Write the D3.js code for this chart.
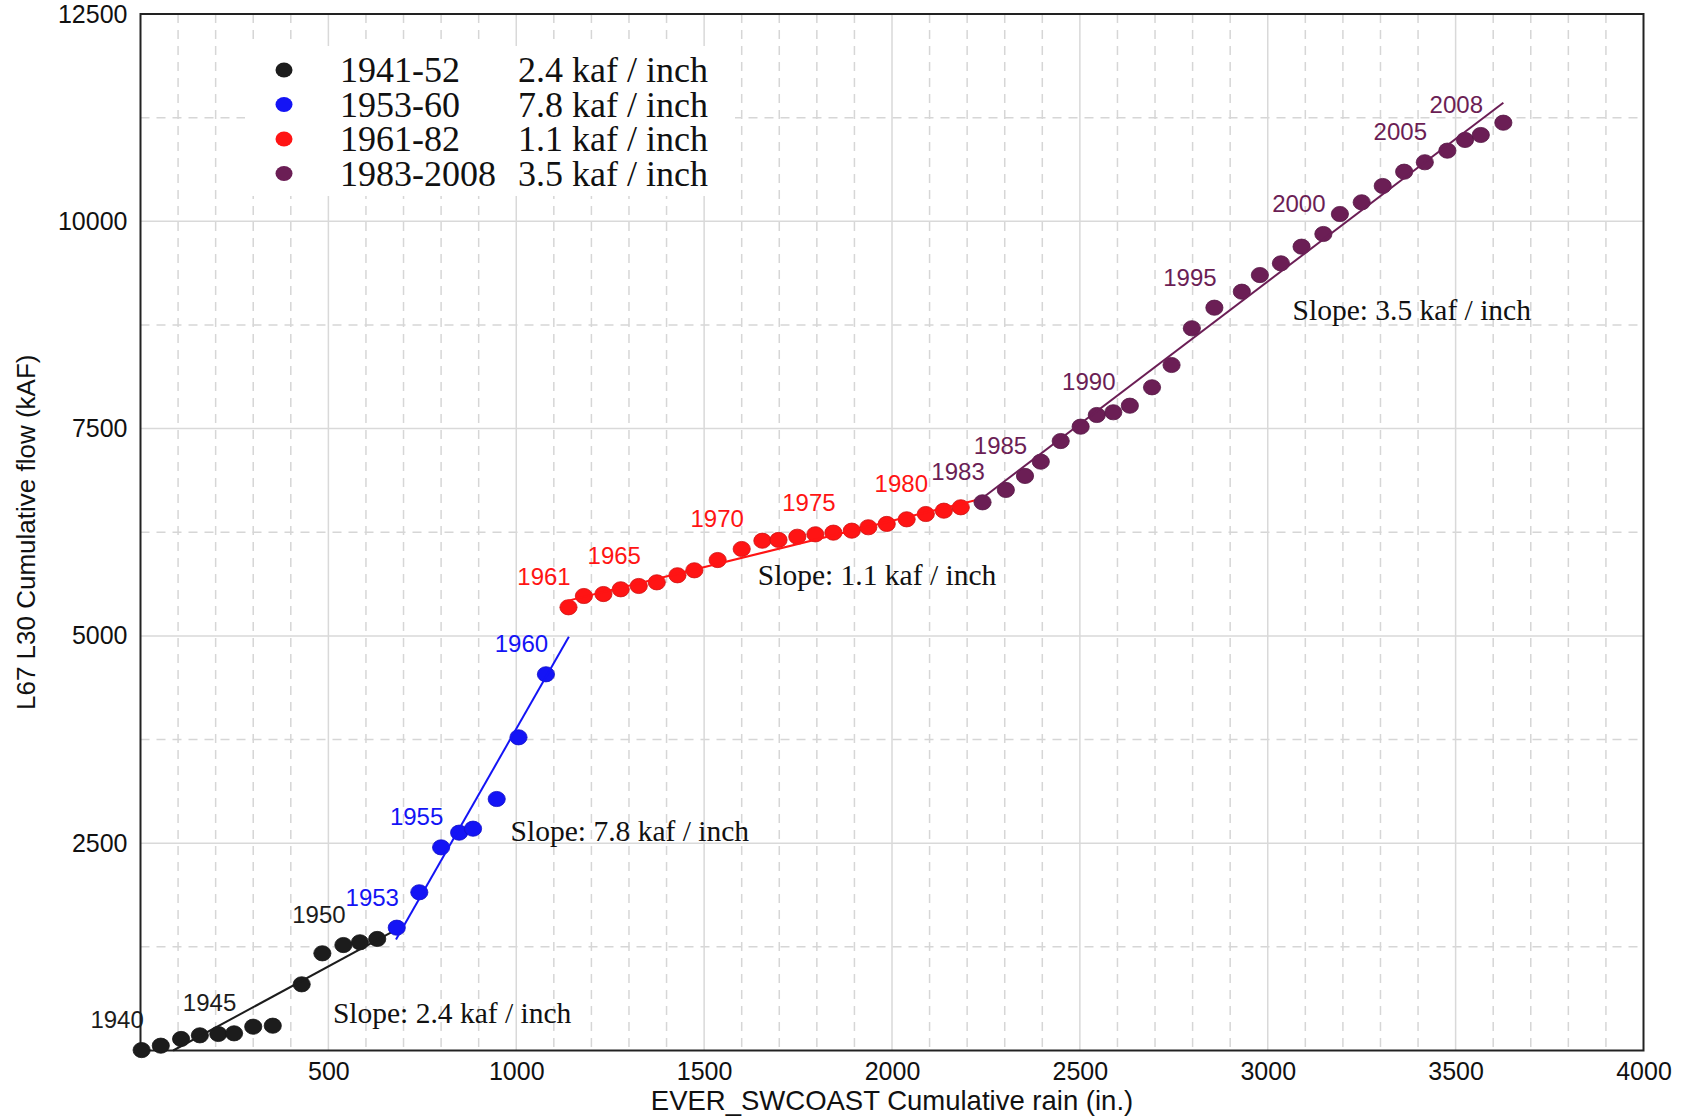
<!DOCTYPE html>
<html>
<head>
<meta charset="utf-8">
<script src="https://cdn.jsdelivr.net/npm/d3@7"></script>
<style>
  body { margin: 0; background: #fff; }
  svg { display: block; }
</style>
</head>
<body>
<div id="chart"></div>
<script>
// values
const blackYears = [1940, 1941, 1942, 1943, 1944, 1945, 1946, 1947, 1948, 1949, 1950, 1951, 1952]
const blackRain = [3, 54, 108, 158, 207, 249, 300, 352, 429, 484, 540, 584, 630]
const blackFlow = [5, 58, 139, 183, 199, 207, 287, 299, 798, 1172, 1272, 1305, 1345]

const blueYears = [1953, 1954, 1955, 1956, 1957, 1958, 1959, 1960]
const blueRain = [682, 742, 800, 848, 885, 948, 1006, 1079]
const blueFlow = [1481, 1908, 2450, 2627, 2675, 3033, 3777, 4537]

const redYears = [1961, 1962, 1963, 1964, 1965, 1966, 1967, 1968, 1969, 1970, 1971,
                  1972, 1973, 1974, 1975, 1976, 1977, 1978, 1979, 1980, 1981, 1982]
const redRain = [1139, 1180, 1232, 1278, 1326, 1374, 1429, 1474, 1536, 1600, 1655,
                 1698, 1748, 1796, 1844, 1893, 1937, 1986, 2039, 2090, 2138, 2183]
const redFlow = [5345, 5481, 5505, 5562, 5602, 5646, 5731, 5791, 5915, 6048, 6148,
                 6157, 6196, 6225, 6245, 6269, 6310, 6350, 6406, 6470, 6510, 6551]

const purpleYears = [1983, 1984, 1985, 1986, 1987, 1988, 1989, 1990, 1991, 1992, 1993, 1994, 1995,
                     1996, 1997, 1998, 1999, 2000, 2001, 2002, 2003, 2004, 2005, 2006, 2007, 2008, 2009]
const purpleRain = [2241, 2303, 2354, 2396, 2449, 2502, 2545, 2589, 2633, 2692, 2744, 2798, 2858,
                    2931, 2979, 3035, 3090, 3148, 3192, 3250, 3306, 3363, 3418, 3478, 3525, 3567, 3627]
const purpleFlow = [6611, 6760, 6929, 7101, 7350, 7523, 7664, 7697, 7776, 7998, 8267, 8710, 8958,
                    9151, 9352, 9493, 9694, 9847, 10088, 10229, 10426, 10598, 10712, 10852, 10981, 11041, 11189]

// fitted lines, [rain, flow] end points
const blackFit = [[87, 0], [682, 1460]]
const blueFit = [[680, 1340], [1140, 4990]]
const redFit = [[1125, 5410], [2225, 6640]]
const purpleFit = [[2240, 6660], [3627, 11430]]

const labelledYears = [1940, 1945, 1950, 1953, 1955, 1960, 1961, 1965, 1970, 1975, 1980,
                       1983, 1985, 1990, 1995, 2000, 2005, 2008]

const periodNames = ["1941-52", "1953-60", "1961-82", "1983-2008"]
const slopeNames = ["2.4 kaf / inch", "7.8 kaf / inch", "1.1 kaf / inch", "3.5 kaf / inch"]
const colors = ["#1c1c1c", "#1414f5", "#ff1414", "#6b1e55"]

const slopeText = ["Slope: 2.4 kaf / inch", "Slope: 7.8 kaf / inch", "Slope: 1.1 kaf / inch", "Slope: 3.5 kaf / inch"]
const slopeAt = [[512, 458], [985, 2653], [1643, 5734], [3066, 8930]]

const xTicks = [500, 1000, 1500, 2000, 2500, 3000, 3500, 4000]
const yTicks = [2500, 5000, 7500, 10000, 12500]
const yMinor = [1250, 3750, 6250, 8750, 11250]

const W = 1689, H = 1116
const svg = d3.select("#chart").append("svg").attr("width", W).attr("height", H)
svg.append("rect").attr("width", W).attr("height", H).attr("fill", "#fff")

const x = d3.scaleLinear().domain([0, 4000]).range([140.5, 1643.5])
const y = d3.scaleLinear().domain([0, 12500]).range([1050.5, 14])

// grid
const grid = svg.append("g")
grid.selectAll(".vminor").data(x.ticks(40).filter(d => d % 500 !== 0)).enter().append("line")
    .attr("x1", d => x(d)).attr("x2", d => x(d)).attr("y1", y(12500)).attr("y2", y(0))
    .attr("stroke", "#d6d6d6").attr("stroke-width", 1.5).attr("stroke-dasharray", "9,7")
grid.selectAll(".hminor").data(yMinor).enter().append("line")
    .attr("x1", x(0)).attr("x2", x(4000)).attr("y1", d => y(d)).attr("y2", d => y(d))
    .attr("stroke", "#d6d6d6").attr("stroke-width", 1.5).attr("stroke-dasharray", "9,7")
grid.selectAll(".vmajor").data(xTicks.slice(0, -1)).enter().append("line")
    .attr("x1", d => x(d)).attr("x2", d => x(d)).attr("y1", y(12500)).attr("y2", y(0))
    .attr("stroke", "#d9d9d9").attr("stroke-width", 1.5)
grid.selectAll(".hmajor").data(yTicks.slice(0, -1)).enter().append("line")
    .attr("x1", x(0)).attr("x2", x(4000)).attr("y1", d => y(d)).attr("y2", d => y(d))
    .attr("stroke", "#d9d9d9").attr("stroke-width", 1.5)

// legend background hides the grid
svg.append("rect").attr("x", 245).attr("y", 46).attr("width", 490).attr("height", 150).attr("fill", "#fff")

// frame
svg.append("rect").attr("x", x(0)).attr("y", y(12500))
   .attr("width", x(4000) - x(0)).attr("height", y(0) - y(12500))
   .attr("fill", "none").attr("stroke", "#222").attr("stroke-width", 2)

// axes
const xAxis = d3.axisBottom(x).tickValues(xTicks).tickFormat(d3.format("d")).tickSize(0).tickPadding(12)
const gx = svg.append("g").attr("transform", `translate(0,${y(0)})`).call(xAxis)
const yAxis = d3.axisLeft(y).tickValues(yTicks).tickFormat(d3.format("d")).tickSize(0).tickPadding(13)
const gy = svg.append("g").attr("transform", `translate(${x(0)},0)`).call(yAxis)
;[gx, gy].forEach(g => {
    g.select(".domain").remove()
    g.selectAll("text").attr("font-family", "Liberation Sans, Arial, sans-serif")
     .attr("font-size", 25).attr("fill", "#111")
})

svg.append("text").attr("x", (x(0) + x(4000)) / 2).attr("y", 1110)
   .attr("text-anchor", "middle").attr("font-family", "Liberation Sans, Arial, sans-serif")
   .attr("font-size", 27.5).attr("fill", "#111").text("EVER_SWCOAST Cumulative rain (in.)")
svg.append("text").attr("transform", `translate(35,${y(6250)}) rotate(-90)`)
   .attr("text-anchor", "middle").attr("font-family", "Liberation Sans, Arial, sans-serif")
   .attr("font-size", 26).attr("fill", "#111").text("L67 L30 Cumulative flow (kAF)")

// series
const series = [
    {years: blackYears, rain: blackRain, flow: blackFlow, fit: blackFit},
    {years: blueYears, rain: blueRain, flow: blueFlow, fit: blueFit},
    {years: redYears, rain: redRain, flow: redFlow, fit: redFit},
    {years: purpleYears, rain: purpleRain, flow: purpleFlow, fit: purpleFit}
]
const line = d3.line().x(d => x(d[0])).y(d => y(d[1]))

series.forEach((s, i) => {
    const pts = s.years.map((yr, j) => ({year: yr, rain: s.rain[j], flow: s.flow[j]}))
    const g = svg.append("g")
    g.selectAll("ellipse").data(pts).enter().append("ellipse")
     .attr("cx", d => x(d.rain)).attr("cy", d => y(d.flow))
     .attr("rx", 8.6).attr("ry", 7.6)
     .attr("fill", colors[i]).attr("stroke", d3.color(colors[i]).darker(0.6)).attr("stroke-width", 0.8)
    g.append("path").datum(s.fit).attr("d", line)
     .attr("fill", "none").attr("stroke", colors[i]).attr("stroke-width", 2)
    g.selectAll("text").data(pts.filter(d => labelledYears.includes(d.year))).enter().append("text")
     .attr("x", d => x(d.rain) - 24.5).attr("y", d => y(d.flow) - 30.5)
     .attr("text-anchor", "middle").attr("dominant-baseline", "central")
     .attr("font-family", "Liberation Sans, Arial, sans-serif").attr("font-size", 24)
     .attr("fill", colors[i]).text(d => d.year)
})

// slope notes
svg.selectAll(".slope").data(slopeText).enter().append("text")
   .attr("x", (d, i) => x(slopeAt[i][0])).attr("y", (d, i) => y(slopeAt[i][1]))
   .attr("dominant-baseline", "central")
   .attr("font-family", "Liberation Serif, Times New Roman, serif").attr("font-size", 29.5)
   .attr("fill", "#111").text(d => d)

// legend
const leg = svg.append("g")
periodNames.forEach((p, i) => {
    const cy = 70 + i * 34.5
    leg.append("ellipse").attr("cx", 284).attr("cy", cy).attr("rx", 8.5).attr("ry", 7.5)
       .attr("fill", colors[i])
    leg.append("text").attr("x", 340).attr("y", cy).attr("dominant-baseline", "central")
       .attr("font-family", "Liberation Serif, Times New Roman, serif").attr("font-size", 36)
       .attr("fill", "#111").text(p)
    leg.append("text").attr("x", 518).attr("y", cy).attr("dominant-baseline", "central")
       .attr("font-family", "Liberation Serif, Times New Roman, serif").attr("font-size", 36)
       .attr("fill", "#111").text(slopeNames[i])
})
</script>
</body>
</html>
